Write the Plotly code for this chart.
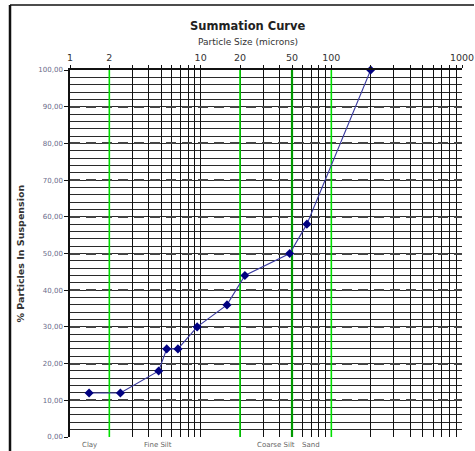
import math
import plotly.graph_objects as go

# Data
particle_size = [1.4, 2.43, 4.77, 5.5, 6.7, 9.4, 15.9, 21.8, 48, 65, 200]
pct_suspension = [12, 12, 18, 24, 24, 30, 36, 44, 50, 58, 100]

boundaries_bright = [2, 20, 100]
boundaries_dark = [50]

x_tick_vals = [1, 2, 3, 4, 5, 6, 7, 8, 9,
               10, 20, 30, 40, 50, 60, 70, 80, 90,
               100, 200, 300, 400, 500, 600, 700, 800, 900, 1000]
x_tick_text = ["1", "2", "", "", "", "", "", "", "",
               "10", "20", "", "", "50", "", "", "", "",
               "100", "", "", "", "", "", "", "", "", "1000"]
y_tick_vals = [0, 10, 20, 30, 40, 50, 60, 70, 80, 90, 100]
y_tick_text = ["0,00", "10,00", "20,00", "30,00", "40,00", "50,00",
               "60,00", "70,00", "80,00", "90,00", "100,00"]

class_labels = ["Clay", "Fine Silt", "Coarse Silt", "Sand"]
class_label_x = [1.4, 4.7, 38, 70]

FONT = "DejaVu Sans"
PW, PH = 392, 367  # plot area size in px

fig = go.Figure()

for b in boundaries_bright:
    fig.add_trace(go.Scatter(x=[b, b], y=[0, 100], mode="lines",
                             line=dict(color="#00e000", width=1.6),
                             hoverinfo="skip", showlegend=False))
for b in boundaries_dark:
    fig.add_trace(go.Scatter(x=[b, b], y=[0, 100], mode="lines",
                             line=dict(color="#009a00", width=2.2),
                             hoverinfo="skip", showlegend=False))

fig.add_trace(go.Scatter(
    x=particle_size, y=pct_suspension, mode="lines+markers",
    line=dict(color="#3a3aa0", width=1.1),
    marker=dict(symbol="diamond", size=7, color="#000080"),
    showlegend=False, cliponaxis=False))

fig.update_layout(
    width=475, height=451,
    margin=dict(l=70, r=13, t=70, b=14, autoexpand=False),
    paper_bgcolor="white", plot_bgcolor="white",
    font=dict(family=FONT, color="#222"),
    xaxis=dict(type="log", range=[0, 3], side="top", automargin=False,
               tickvals=x_tick_vals, ticktext=x_tick_text,
               tickfont=dict(size=9.5, color="#333"),
               showgrid=True, gridcolor="#111", gridwidth=1.4,
               showline=True, linecolor="#111", linewidth=1.5,
               ticks="outside", ticklen=3, tickcolor="#111",
               zeroline=False),
    yaxis=dict(range=[0, 100], automargin=False,
               tickvals=y_tick_vals, ticktext=y_tick_text,
               tickfont=dict(size=7, color="#6a6a8a"),
               showgrid=True, gridcolor="#444", gridwidth=1.5,
               griddash="10px,6px",
               minor=dict(dtick=2, showgrid=True, gridcolor="#2a2a2a",
                          gridwidth=1.4, griddash="solid"),
               showline=True, linecolor="#111", linewidth=1.5,
               ticks="outside", ticklen=4, tickcolor="#111",
               zeroline=False),
    annotations=[
        dict(text="<b>Summation Curve</b>", x=(248 - 70) / PW, y=(437 - 26) / PH,
             xref="paper", yref="paper", showarrow=False,
             xanchor="center", yanchor="middle",
             font=dict(size=11.5, color="#222")),
        dict(text="Particle Size (microns)", x=(248 - 70) / PW, y=(437 - 42) / PH,
             xref="paper", yref="paper", showarrow=False,
             xanchor="center", yanchor="middle",
             font=dict(size=9, color="#333")),
        dict(text="<b>% Particles In Suspension</b>", x=(20 - 70) / PW, y=0.5,
             xref="paper", yref="paper", showarrow=False, textangle=-90,
             xanchor="center", yanchor="middle",
             font=dict(size=9.5, color="#333")),
    ] + [
        dict(text=t, x=math.log10(xv), y=-8 / PH,
             xref="x", yref="paper", showarrow=False,
             xanchor="center", yanchor="middle",
             font=dict(size=7, color="#666"))
        for t, xv in zip(class_labels, class_label_x)
    ],
    shapes=[
        dict(type="line", xref="paper", yref="paper",
             x0=(10 - 70) / PW, x1=(474 - 70) / PW,
             y0=(437 - 5) / PH, y1=(437 - 5) / PH,
             line=dict(color="#111", width=1.5)),
        dict(type="line", xref="paper", yref="paper",
             x0=(10 - 70) / PW, x1=(10 - 70) / PW,
             y0=(437 - 5) / PH, y1=(437 - 452) / PH,
             line=dict(color="#111", width=2.5)),
    ],
)

fig.write_html(
    "out.html",
    config={"displayModeBar": False},
    post_script="document.body.style.margin='0';document.body.style.overflow='hidden';",
)
